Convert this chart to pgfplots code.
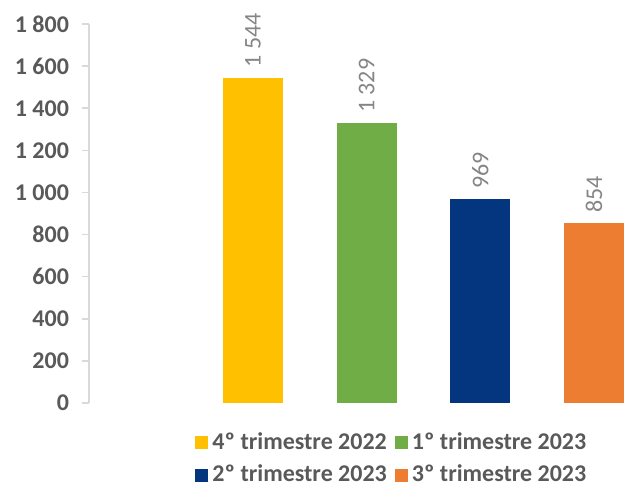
\documentclass[border=0pt]{standalone}
\usepackage{pgfplots}
\pgfplotsset{compat=1.18}
\usepackage{fontspec}
\setmainfont{Carlito}
\definecolor{q4}{HTML}{FFC000}
\definecolor{q1}{HTML}{70AD47}
\definecolor{q2}{HTML}{043680}
\definecolor{q3}{HTML}{ED7D31}
\definecolor{txt}{HTML}{595959}
\definecolor{lbl}{HTML}{858585}
\definecolor{axgray}{HTML}{D9D9D9}
\begin{document}
\begin{tikzpicture}
\begin{axis}[
    at={(44.5pt,43pt)}, anchor=south west,
    scale only axis, width=268pt, height=189.5pt,
    xmin=-0.443, xmax=4.273, ymin=0, ymax=1800,
    ytick={0,200,...,1800},
    axis y line*=left, axis x line=none,
    y axis line style={draw=axgray, line width=0.8pt, -},
    ytick style={draw=axgray, line width=0.8pt},
    tick align=outside, major tick length=3.5pt,
    yticklabel style={font=\fontsize{12}{14}\selectfont\bfseries, text=txt, xshift=-3pt},
    /pgf/number format/assume math mode=true,
    /pgf/number format/1000 sep={\ },
    nodes near coords,
    every node near coord/.append style={rotate=90, anchor=west, inner xsep=5pt, inner ysep=0pt,
        font=\fontsize{12}{14}\selectfont, text=lbl},
    legend columns=2,
    legend cell align=left,
    legend style={draw=none, fill=none, at={(0.567,-0.055)}, anchor=north,
        font=\fontsize{12}{14}\selectfont\bfseries, text=txt, row sep=2.5pt,
        /tikz/every even column/.append style={column sep=2pt}},
    legend image code/.code={\fill[#1] (0pt,-3.25pt) rectangle (6.5pt,3.25pt);},
]
\addplot[ybar, bar width=30pt, fill=q4, draw=none] coordinates {(1,1544)};
\addlegendentry{4º trimestre 2022}
\addplot[ybar, bar width=30pt, fill=q1, draw=none] coordinates {(2,1329)};
\addlegendentry{1º trimestre 2023}
\addplot[ybar, bar width=30pt, fill=q2, draw=none] coordinates {(3,969)};
\addlegendentry{2º trimestre 2023}
\addplot[ybar, bar width=30pt, fill=q3, draw=none] coordinates {(4,854)};
\addlegendentry{3º trimestre 2023}
\end{axis}
\pgfresetboundingbox
\path (0,0) rectangle (312.5pt,244.5pt);
\end{tikzpicture}
\end{document}
